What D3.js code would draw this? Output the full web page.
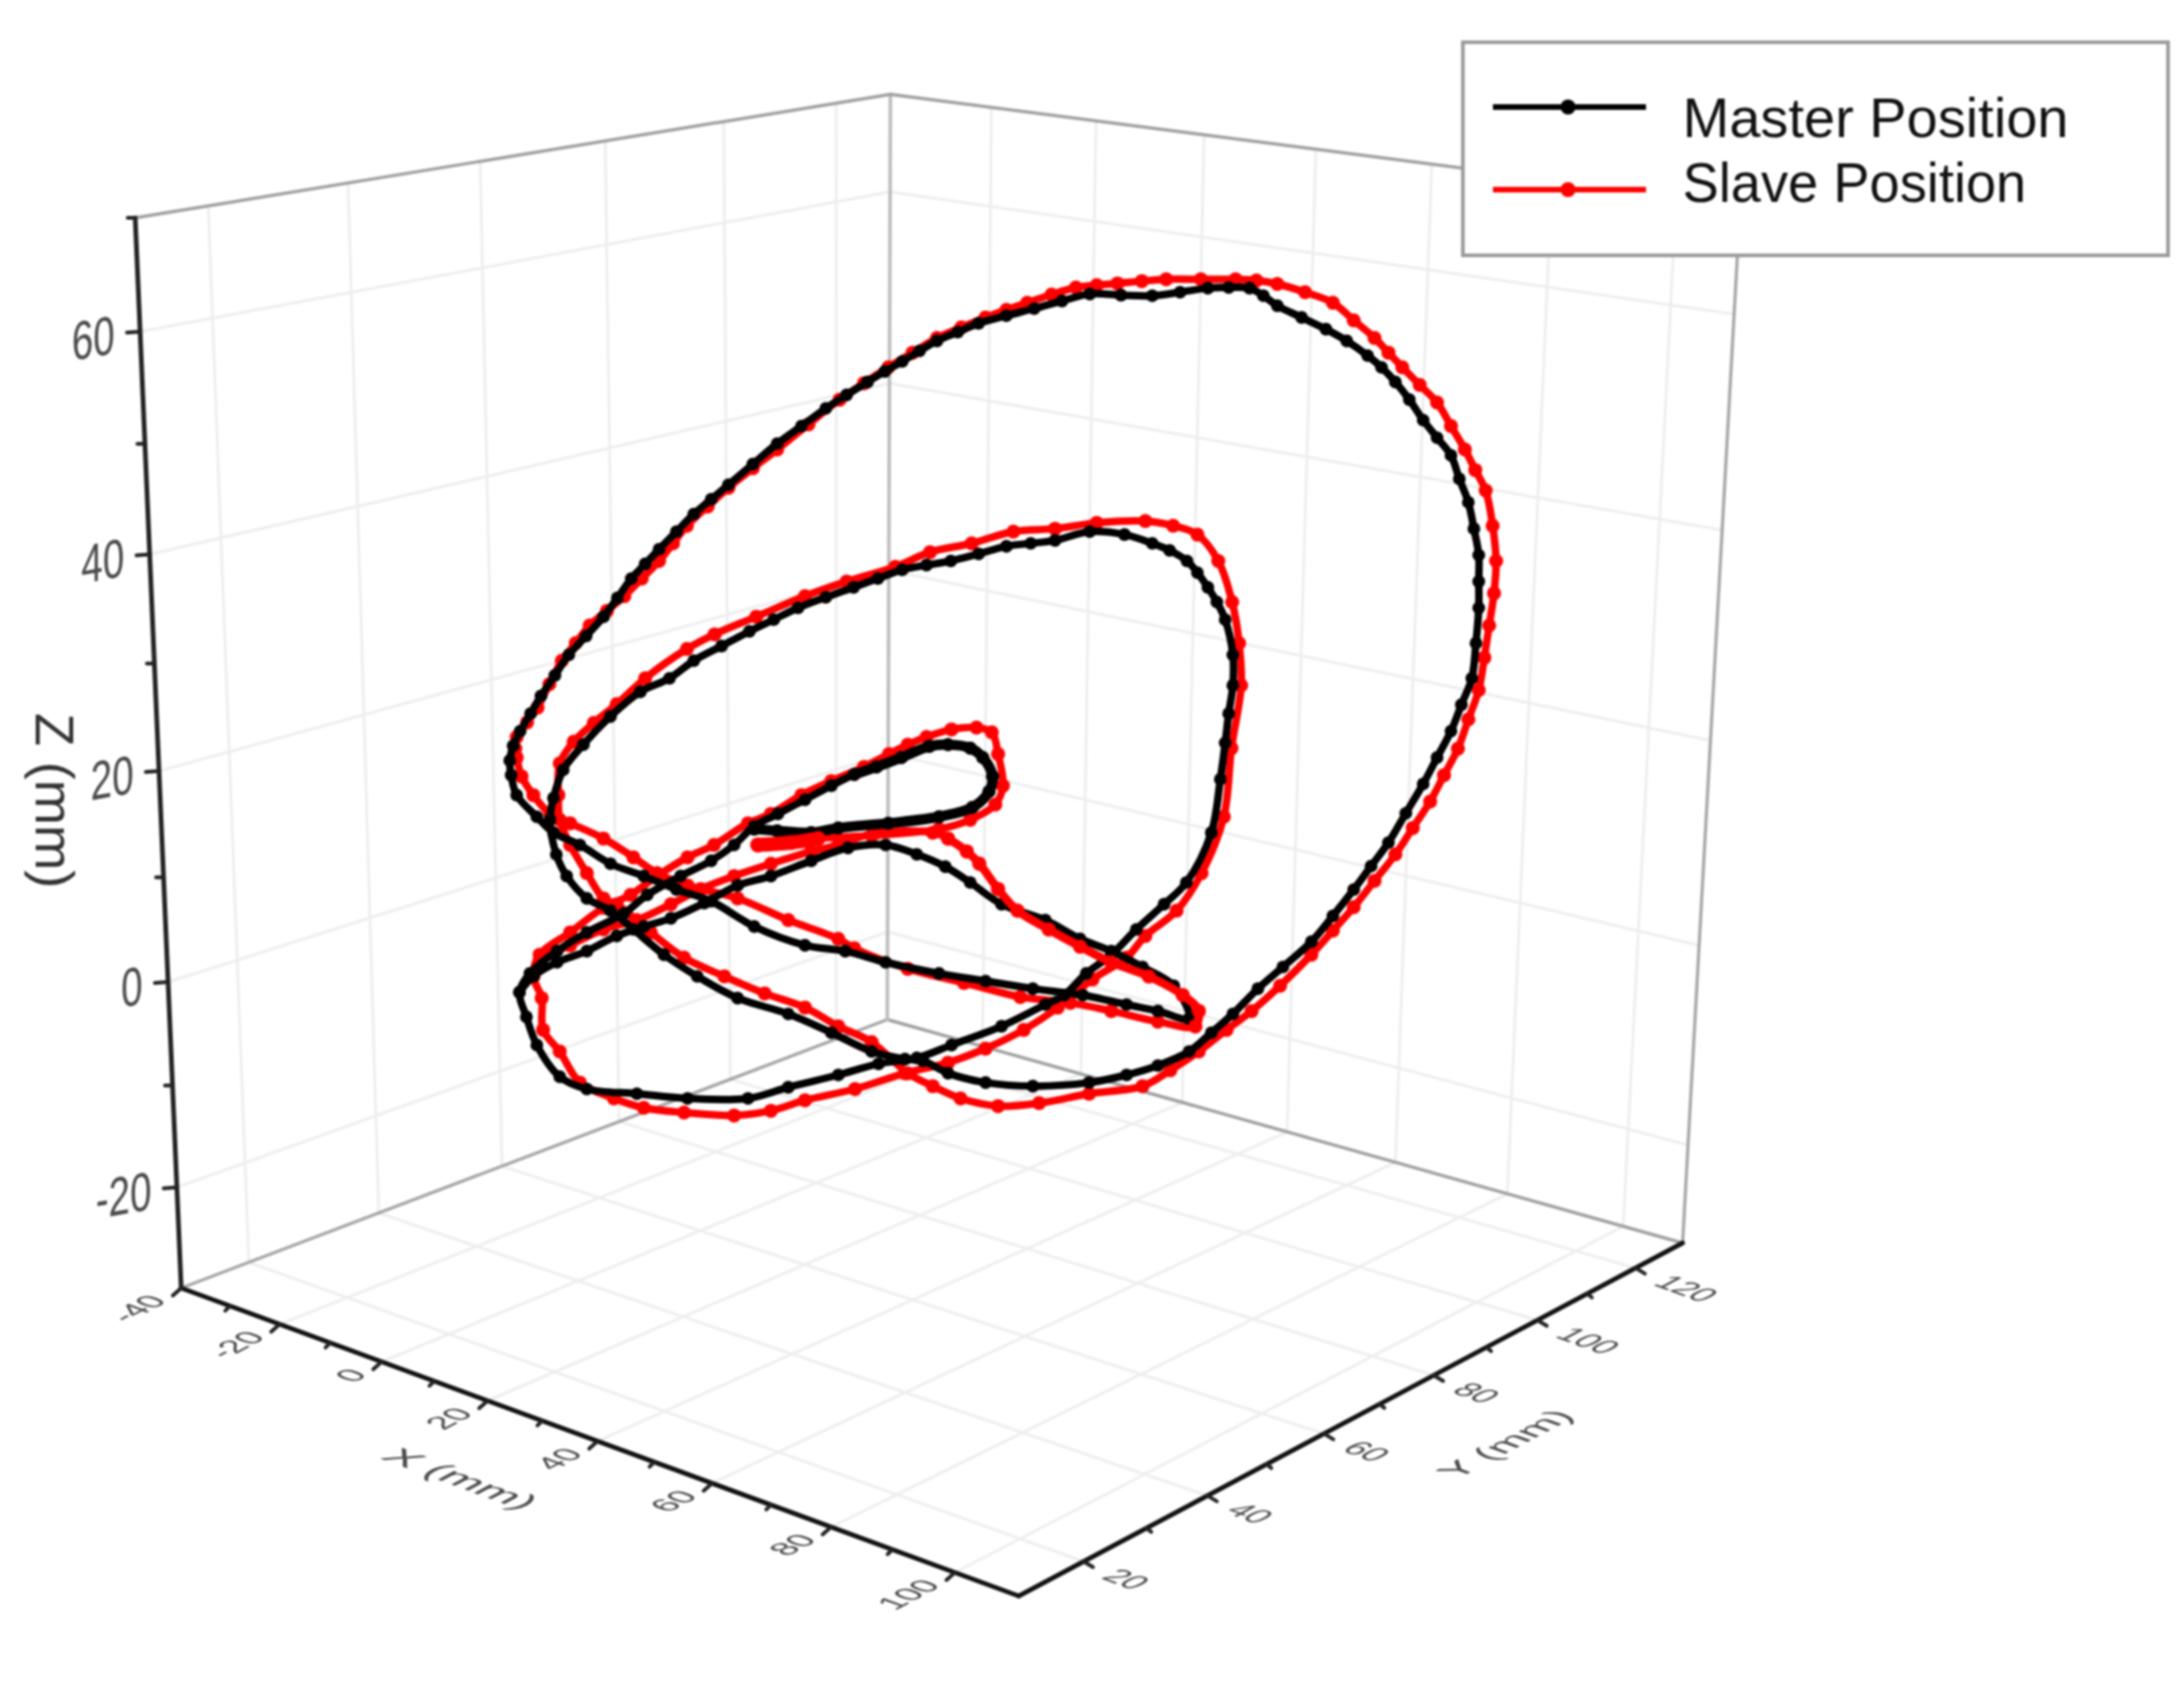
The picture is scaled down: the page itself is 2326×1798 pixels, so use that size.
<!DOCTYPE html>
<html><head><meta charset="utf-8">
<script src="https://cdn.jsdelivr.net/npm/d3@7"></script>
<style>html,body{margin:0;background:#fff}svg{display:block;filter:blur(1px)}text{font-family:"Liberation Sans",Arial,sans-serif}</style>
</head><body><svg id="c" width="2326" height="1798"></svg>
<script>
// Axis tick values
const xTicks=[-40,-20,0,20,40,60,80,100], xMinor=[-30,-10,10,30,50,70,90];
const yTicks=[20,40,60,80,100,120], yMinor=[30,50,70,90,110];
const zTicks=[-20,0,20,40,60], zMinor=[-10,10,30,50,70];
const xDomain=[-40,110], yDomain=[10,130], zDomain=[-30,70];
const seriesNames=["Master Position","Slave Position"];
const seriesColors=["#000","#f00"];
// Trajectories, as [horizontal, vertical] view readings
const master=[[437,997],[470,1000],[519,1003],[558,995],[630,987],[703,976],[751,960],[775,933],[780,907],[766,875],[748,859],[716,853],[689,856],[649,875],[613,891],[581,904],[548,923],[510,947],[471,971],[437,992],[408,1024],[375,1051],[331,1077],[283,1109],[249,1141],[196,1173],[153,1205],[114,1243],[99,1275],[109,1317],[124,1365],[157,1419],[196,1440],[268,1448],[341,1456],[428,1456],[486,1437],[558,1416],[616,1397],[671,1387],[721,1365],[793,1333],[856,1296],[883,1280],[915,1243],[951,1211],[987,1168],[1027,1125],[1059,1088],[1095,1003],[1108,912],[1115,850],[1120,800],[1126,752],[1126,700],[1115,640],[1103,610],[1090,585],[1075,560],[1060,540],[1035,522],[1010,510],[970,495],[920,490],[870,505],[835,510],[800,515],[760,528],[720,540],[685,547],[650,555],[615,570],[580,585],[540,602],[500,620],[465,640],[430,660],[390,685],[350,710],[315,740],[273,763],[230,805],[191,853],[162,896],[148,944],[143,981],[152,1040],[167,1077],[196,1115],[230,1136],[263,1168],[307,1211],[355,1248],[413,1285],[486,1312],[548,1344],[606,1376],[654,1389],[680,1392],[716,1413],[770,1429],[838,1435],[919,1429],[973,1416],[1018,1400],[1063,1376],[1095,1344],[1126,1312],[1162,1269],[1198,1232],[1239,1189],[1270,1145],[1300,1100],[1325,1060],[1350,1020],[1375,970],[1400,920],[1420,875],[1440,830],[1455,785],[1470,740],[1476,680],[1480,620],[1480,575],[1480,530],[1473,485],[1465,440],[1452,400],[1440,360],[1420,330],[1400,300],[1380,265],[1360,235],[1340,210],[1320,190],[1290,165],[1260,145],[1225,125],[1190,105],[1170,88],[1150,75],[1120,74],[1090,75],[1050,82],[1010,88],[965,87],[920,85],[880,97],[840,110],[800,122],[760,135],[730,150],[700,165],[675,182],[650,200],[625,217],[600,235],[570,257],[540,280],[505,310],[470,340],[435,375],[400,410],[375,435],[350,460],[325,490],[300,520],[280,545],[260,570],[240,603],[220,635],[195,668],[170,700],[150,735],[130,770],[115,800],[100,830],[90,855],[85,880],[87,905],[95,939],[124,976],[148,1003],[186,1024],[230,1056],[278,1077],[325,1100],[375,1120],[437,1163],[510,1195],[568,1205],[626,1224],[703,1243],[770,1256],[838,1269],[910,1280],[973,1296],[1018,1307],[1063,1320],[1041,1264],[996,1232],[951,1205],[906,1184],[856,1152],[793,1125],[748,1088],[712,1061],[671,1040],[626,1024],[572,1029],[519,1051],[461,1077],[413,1093],[365,1123],[317,1149],[278,1163],[239,1179],[196,1205],[153,1224],[119,1248],[99,1275]];
const slave=[[442,1024],[490,1020],[529,1013],[606,1008],[703,997],[748,981],[784,955],[795,923],[788,869],[779,832],[757,824],[721,827],[685,840],[658,853],[631,869],[595,891],[548,915],[505,939],[461,971],[428,987],[379,1024],[341,1045],[297,1077],[259,1109],[220,1131],[172,1173],[128,1211],[119,1248],[131,1285],[133,1339],[157,1376],[186,1429],[235,1456],[278,1472],[336,1480],[408,1485],[461,1477],[510,1459],[582,1440],[654,1413],[716,1395],[770,1371],[825,1339],[874,1301],[924,1253],[973,1216],[1000,1179],[1045,1136],[1081,1072],[1113,976],[1124,859],[1138,752],[1135,680],[1125,610],[1105,540],[1075,495],[1040,480],[1000,472],[930,475],[870,485],[810,490],[750,510],[690,525],[640,550],[570,575],[510,600],[440,635],[380,665],[340,690],[280,740],[239,784],[206,816],[177,848],[157,885],[155,939],[157,981],[172,1024],[196,1072],[220,1115],[239,1125],[288,1173],[336,1216],[394,1248],[452,1277],[510,1301],[558,1333],[606,1360],[658,1413],[694,1435],[734,1456],[788,1469],[847,1464],[919,1448],[996,1435],[1036,1408],[1077,1376],[1117,1339],[1153,1307],[1194,1264],[1239,1211],[1270,1170],[1300,1130],[1330,1085],[1360,1040],[1385,995],[1410,950],[1430,905],[1450,860],[1465,810],[1480,760],[1488,705],[1495,650],[1502,595],[1505,540],[1500,480],[1490,420],[1475,385],[1460,350],[1440,310],[1420,270],[1395,240],[1370,210],[1350,185],[1330,160],[1300,130],[1270,100],[1230,82],[1190,68],[1160,62],[1130,60],[1080,60],[1030,60],[995,63],[960,67],[930,70],[900,74],[865,86],[830,100],[800,112],[770,125],[735,142],[700,160],[665,185],[630,210],[595,237],[560,265],[515,307],[470,350],[435,382],[400,415],[370,447],[340,480],[320,510],[300,540],[275,570],[250,600],[225,625],[200,650],[180,680],[160,710],[142,750],[125,790],[110,815],[95,840],[93,860],[95,875],[102,907],[119,939],[143,971],[172,987],[220,1013],[263,1045],[297,1072],[341,1093],[413,1115],[486,1152],[558,1184],[581,1200],[658,1235],[739,1259],[820,1283],[892,1293],[951,1307],[1018,1325],[1072,1333],[1077,1307],[1054,1280],[1005,1248],[951,1224],[906,1197],[861,1168],[816,1136],[788,1099],[761,1056],[743,1035],[716,1013],[694,1003],[613,1003],[558,1024],[519,1035],[461,1056],[408,1077],[360,1099],[317,1125],[268,1152],[220,1168],[172,1195],[128,1221],[119,1248]];

const svg=d3.select("#c");
// scales
const xS=d3.scaleLinear().domain(xDomain).range([0,1]),
      yS=d3.scaleLinear().domain(yDomain).range([0,1]),
      zS=d3.scaleLinear().domain(zDomain).range([0,1]);
const uS=d3.scaleLinear().domain([0,1568]).range([480,1640]),
      vS=d3.scaleLinear().domain([0,1568]).range([260,1240]);

// perspective box from the corners of the frame
const L=[193,1372,1],F=[1085,1700,1],B=[945,1086,1],R=[1792,1324,1],LT=[144,232,1],BT=[944,100,1];
const cross=(a,b)=>[a[1]*b[2]-a[2]*b[1],a[2]*b[0]-a[0]*b[2],a[0]*b[1]-a[1]*b[0]];
const dot=(a,b)=>a[0]*b[0]+a[1]*b[1]+a[2]*b[2];
const det=(a,b,c)=>dot(a,cross(b,c));
const Rn=R.map(d=>-d), D=det(F,B,Rn);
const s1=det(L,B,Rn)/D, s2=det(F,L,Rn)/D;
const V=L.map((d,i)=>d-s2*B[i]), c1=cross(LT,BT), c2=cross(V,BT);
const s3=dot(c2,c1)/dot(c1,c1);
const h1=F.map((d,i)=>s1*d-L[i]),h2=B.map((d,i)=>s2*d-L[i]),h3=LT.map((d,i)=>s3*d-L[i]);
function proj(a,b,c){const p=[0,1,2].map(i=>a*h1[i]+b*h2[i]+c*h3[i]+L[i]);return [p[0]/p[2],p[1]/p[2]];}
const P=(x,y,z)=>proj(xS(x),yS(y),zS(z));
const [x0,x1]=xDomain,[y0,y1]=yDomain,[z0,z1]=zDomain;

function seg(g,a,b,color,w){g.append("line").attr("x1",a[0]).attr("y1",a[1]).attr("x2",b[0]).attr("y2",b[1]).attr("stroke",color).attr("stroke-width",w).attr("stroke-linecap","round");}

// grid
const grid=svg.append("g"); const gc="#eeeeee", gw=3;
zTicks.forEach(z=>{seg(grid,P(x0,y0,z),P(x0,y1,z),gc,gw);seg(grid,P(x0,y1,z),P(x1,y1,z),gc,gw);});
yTicks.forEach(y=>{seg(grid,P(x0,y,z0),P(x0,y,z1),gc,gw);seg(grid,P(x0,y,z0),P(x1,y,z0),gc,gw);});
xTicks.slice(1).forEach(x=>{seg(grid,P(x,y1,z0),P(x,y1,z1),gc,gw);seg(grid,P(x,y0,z0),P(x,y1,z0),gc,gw);});

// frame
const frame=svg.append("g");
seg(frame,P(x0,y0,z0),P(x0,y1,z0),"#a6a6a6",3.4);
seg(frame,P(x0,y1,z0),P(x1,y1,z0),"#a0a0a0",3.4);
seg(frame,P(x0,y1,z0),P(x0,y1,z1),"#bdbdbd",3.8);
seg(frame,P(x1,y1,z0),P(x1,y1,z1),"#a6a6a6",3.4);
seg(frame,P(x0,y0,z1),P(x0,y1,z1),"#a0a0a0",3.4);
seg(frame,P(x0,y1,z1),P(x1,y1,z1),"#a0a0a0",3.4);

// axes
const ax=svg.append("g");
seg(ax,P(x0,y0,z0),P(x1,y0,z0),"#111",5);
seg(ax,P(x1,y0,z0),P(x1,y1,z0),"#111",5);
seg(ax,P(x0,y0,z0),P(x0,y0,z1),"#222",5);
const lab=svg.append("g").attr("fill","#4a4a4a");
function put(t,pos,m,size,anchor){lab.append("text").text(t).attr("font-size",size).attr("text-anchor",anchor).attr("dominant-baseline","central").attr("transform",`matrix(${m.join(",")},${pos[0]},${pos[1]})`);}
const xm=[.883*.85,-.469*.85,.94*.85,.345*.85], ym=[.94*.85,.345*.85,-.883*.85,.469*.85], zm=[.71,-.125,0,1];
xTicks.forEach(t=>{const p=P(t,y0,z0);seg(ax,p,[p[0]-9,p[1]+8],"#222",4);put(t,[p[0]-25,p[1]+10],xm,40,"end");});
xMinor.forEach(t=>{const p=P(t,y0,z0);seg(ax,p,[p[0]-5,p[1]+5],"#222",4);});
yTicks.forEach(t=>{const p=P(x1,t,z0);seg(ax,p,[p[0]+10,p[1]+6],"#222",4);put(t,[p[0]+28,p[1]+12],ym,40,"start");});
yMinor.forEach(t=>{const p=P(x1,t,z0);seg(ax,p,[p[0]+5,p[1]+4],"#222",4);});
zTicks.forEach(t=>{const p=P(x0,y0,t);seg(ax,p,[p[0]-14,p[1]+1],"#222",4);put(t,[p[0]-27,p[1]+3],zm,58,"end");});
zMinor.forEach(t=>{const p=P(x0,y0,t);seg(ax,p,[p[0]-8,p[1]],"#222",4);});
put("X (mm)",[491,1575],[.94*.95,.345*.95,-.883*.7,.469*.7],52,"middle");
put("Y (mm)",[1603,1538],[.883*.85,-.469*.85,.94*.7,.345*.7],52,"middle");
lab.append("text").text("Z (mm)").attr("font-size",58).attr("fill","#333").attr("text-anchor","middle").attr("dominant-baseline","central").attr("transform","translate(58,853) rotate(90)");

// traces
const lineGen=d3.line().x(d=>uS(d[0])).y(d=>vS(d[1])).curve(d3.curveCatmullRom.alpha(.5));
function trace(data,color,lw,r){
  const g=svg.append("g");
  g.append("path").attr("d",lineGen(data)).attr("fill","none").attr("stroke",color).attr("stroke-width",lw).attr("stroke-linejoin","round").attr("stroke-linecap","round");
  g.selectAll("circle").data(data).join("circle").attr("cx",d=>uS(d[0])).attr("cy",d=>vS(d[1])).attr("r",r).attr("fill",color);
}
trace(slave,seriesColors[1],8,7.5);
trace(master,seriesColors[0],8,6.8);
trace(master.slice(0,16),seriesColors[0],11,7);
// the last part of the slave path, tip to start, lies in front of the master path
const tipIndex=slave.findIndex(d=>d[0]===1072);
trace(slave.slice(tipIndex,tipIndex+12),seriesColors[1],9,7.5);
trace(slave.slice(0,3),seriesColors[1],15,8);

// legend
const lg=svg.append("g");
lg.append("rect").attr("x",1558).attr("y",45).attr("width",751).attr("height",227).attr("fill","#fff").attr("stroke","#999").attr("stroke-width",3.8);
[114,202].forEach((y,i)=>{
  lg.append("line").attr("x1",1590).attr("x2",1753).attr("y1",y).attr("y2",y).attr("stroke",seriesColors[i]).attr("stroke-width",6);
  lg.append("circle").attr("cx",1670).attr("cy",y).attr("r",8).attr("fill",seriesColors[i]);
  lg.append("text").text(seriesNames[i]).attr("x",1792).attr("y",[146,215][i]).attr("font-size",60).attr("fill","#111").attr("textLength",[411,366][i]).attr("lengthAdjust","spacingAndGlyphs");
});
</script></body></html>
